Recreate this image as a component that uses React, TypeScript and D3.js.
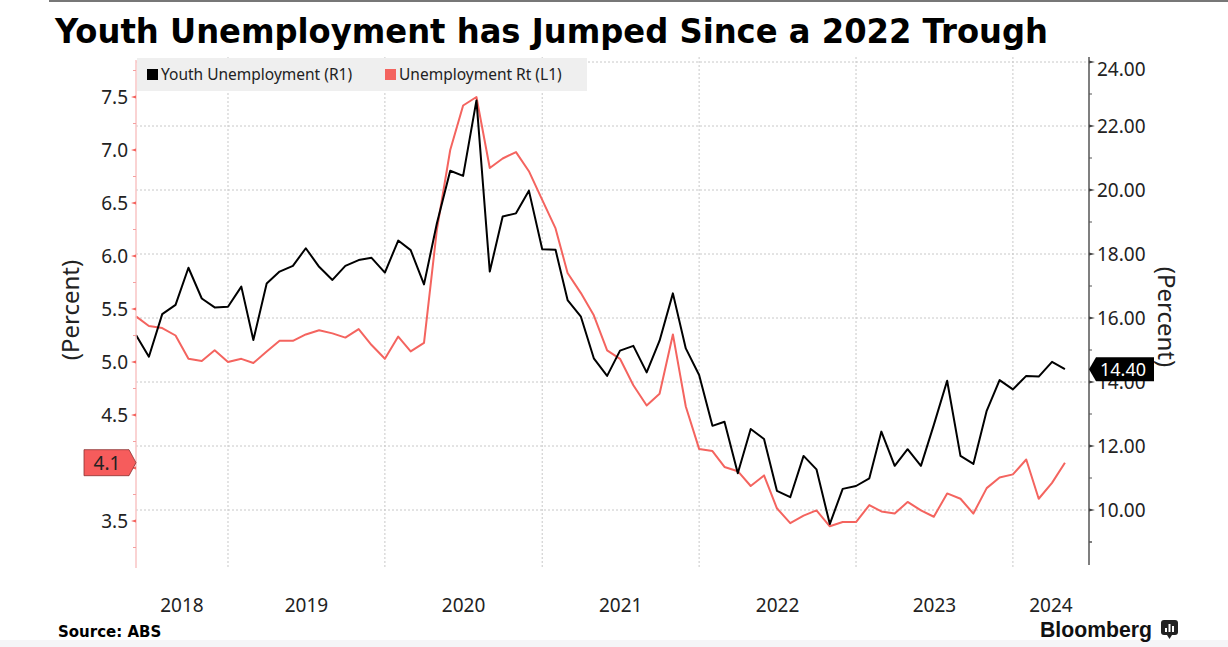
import React from "react";
import * as d3 from "d3";

// Monthly observations, May 2018 .. Apr 2024 (plotted at month end)
const startMonth = new Date(2018, 5, 1);
const youthUnemployment: number[] = [
  15.47, 14.79, 16.12, 16.41, 17.57, 16.61, 16.33, 16.35, 16.98, 15.31,
  17.08, 17.45, 17.63, 18.18, 17.6, 17.19, 17.63, 17.81, 17.88, 17.42,
  18.42, 18.12, 17.05, 18.96, 20.6, 20.44, 22.8, 17.45, 19.17, 19.27,
  19.98, 18.15, 18.13, 16.56, 16.04, 14.74, 14.19, 14.98, 15.13, 14.3,
  15.29, 16.77, 15.05, 14.22, 12.63, 12.76, 11.15, 12.53, 12.22, 10.6,
  10.4, 11.69, 11.27, 9.56, 10.66, 10.75, 10.99, 12.45, 11.38, 11.9,
  11.38, 12.66, 14.04, 11.69, 11.44, 13.1, 14.06, 13.77, 14.19, 14.17,
  14.63, 14.4,
];
const unemploymentRate: number[] = [
  5.43, 5.34, 5.32, 5.25, 5.03, 5.01, 5.11, 5.0, 5.03, 4.99,
  5.1, 5.2, 5.2, 5.26, 5.3, 5.27, 5.23, 5.31, 5.16, 5.03,
  5.24, 5.1, 5.18, 6.25, 7.0, 7.42, 7.5, 6.83, 6.92, 6.98,
  6.8, 6.53, 6.26, 5.84, 5.65, 5.44, 5.11, 5.03, 4.78, 4.59,
  4.7, 5.26, 4.58, 4.18, 4.16, 4.01, 3.97, 3.83, 3.93, 3.62,
  3.48, 3.55, 3.6, 3.45, 3.49, 3.49, 3.65, 3.59, 3.57, 3.68,
  3.6, 3.54, 3.76, 3.71, 3.57, 3.81, 3.91, 3.94, 4.08, 3.71,
  3.86, 4.05,
];
const leftTicks: number[] = [3.5, 4.0, 4.5, 5.0, 5.5, 6.0, 6.5, 7.0, 7.5];
const rightTicks: number[] = [10, 12, 14, 16, 18, 20, 22, 24];
const yearLabels: string[] = ["2018", "2019", "2020", "2021", "2022", "2023", "2024"];
const seriesNames: string[] = ["Youth Unemployment (R1)", "Unemployment Rt (L1)"];
const lastLabels: string[] = ["14.40", "4.1"];

const W = 1228;
const H = 647;
const X0 = 136;
const X1 = 1089;
const TOP = 57;
const BOTTOM = 568;
const RED = "#f4645f";
const FONT = "'Noto Sans', 'Open Sans', sans-serif";

export default function App() {
  const dates = youthUnemployment.map((_, i) => d3.timeMonth.offset(startMonth, i));
  const x = d3
    .scaleTime()
    .domain([new Date(2018, 5, 1), new Date(2024, 5, 26)])
    .range([X0, X1]);
  const yL = d3.scaleLinear().domain([3.5, 7.5]).range([521, 97]);
  const yR = d3.scaleLinear().domain([10, 24]).range([510, 62]);

  const lineR = d3
    .line<number>()
    .x((_, i) => x(dates[i]))
    .y((d) => yR(d));
  const lineL = d3
    .line<number>()
    .x((_, i) => x(dates[i]))
    .y((d) => yL(d));

  const yearStarts = yearLabels.map((y) => new Date(+y, 0, 1));
  const leftMinor = leftTicks.map((t) => t - 0.25).concat([7.75]);
  const rightMinor = rightTicks.map((t) => t - 1).concat([9]).filter((t) => yR(t) < BOTTOM - 2);

  const fmtL = d3.format(".1f");
  const fmtR = d3.format(".2f");

  const lastIdx = youthUnemployment.length - 1;
  const lastYR = yR(youthUnemployment[lastIdx]);
  const lastYL = yL(unemploymentRate[lastIdx]);

  return (
    <svg
      width={W}
      height={H}
      style={{ position: "absolute", left: 0, top: 0, background: "#fff" }}
      fontFamily={FONT}
    >
      <rect x={0} y={0} width={W} height={H} fill="#fff" />
      <rect x={49} y={0} width={W - 49} height={2} fill="#777" />
      <rect x={0} y={640} width={W} height={7} fill="#f5f5f7" />

      {/* Title */}
      <text
        x={55}
        y={43}
        fontFamily="'DejaVu Sans', sans-serif"
        fontWeight="bold"
        fontSize={34}
        textLength={993}
        lengthAdjust="spacingAndGlyphs"
        fill="#000"
      >
        Youth Unemployment has Jumped Since a 2022 Trough
      </text>

      {/* gridlines */}
      {rightTicks.map((t) => (
        <line
          key={"hg" + t}
          x1={X0}
          x2={X1}
          y1={yR(t)}
          y2={yR(t)}
          stroke="#c8c8c8"
          strokeDasharray="2,2"
          strokeWidth={1}
        />
      ))}
      {yearStarts.slice(1).map((d, i) => (
        <line
          key={"vg" + i}
          x1={x(d)}
          x2={x(d)}
          y1={TOP}
          y2={BOTTOM}
          stroke="#c8c8c8"
          strokeDasharray="2,2"
          strokeWidth={1}
        />
      ))}

      {/* Legend */}
      <rect x={137} y={58} width={450} height={33} fill="#efefef" />
      <rect x={147} y={69} width={11} height={11} fill="#000" />
      <text x={161} y={80} fontSize={15.5} fill="#222">
        {seriesNames[0]}
      </text>
      <rect x={385} y={69} width={11} height={11} fill={RED} />
      <text x={399} y={80} fontSize={15.5} fill="#222">
        {seriesNames[1]}
      </text>

      {/* Lines */}
      <path d={lineL(unemploymentRate) || ""} fill="none" stroke={RED} strokeWidth={2} strokeLinejoin="round" />
      <path d={lineR(youthUnemployment) || ""} fill="none" stroke="#000" strokeWidth={2} strokeLinejoin="round" />

      {/* Left axis */}
      <line x1={X0} x2={X0} y1={60} y2={BOTTOM} stroke="#f8c4c4" strokeWidth={1.5} />
      {leftMinor.map((t) => (
        <line key={"lm" + t} x1={X0 - 3} x2={X0} y1={yL(t)} y2={yL(t)} stroke="#f4a0a0" strokeWidth={1} />
      ))}
      {leftTicks.map((t) => (
        <g key={"lt" + t}>
          <path
            d={`M${X0},${yL(t) - 1.5}L${X0 - 5},${yL(t)}L${X0},${yL(t) + 1.5}Z`}
            fill={RED}
          />
          {Math.abs(yL(t) - lastYL) > 16 && (
            <text x={128} y={yL(t)} textAnchor="end" dominantBaseline="central" fontSize={19} fill="#222">
              {fmtL(t)}
            </text>
          )}
        </g>
      ))}

      {/* Right axis */}
      <line x1={X1} x2={X1} y1={TOP} y2={565} stroke="#555" strokeWidth={1.5} />
      {rightMinor.map((t) => (
        <line key={"rm" + t} x1={X1} x2={X1 + 3} y1={yR(t)} y2={yR(t)} stroke="#555" strokeWidth={1} />
      ))}
      {rightTicks.map((t) => (
        <g key={"rt" + t}>
          <path
            d={`M${X1},${yR(t) - 1.5}L${X1 + 6},${yR(t)}L${X1},${yR(t) + 1.5}Z`}
            fill="#444"
          />
          <text
            x={1097}
            y={Math.max(yR(t), 69)}
            dominantBaseline="central"
            fontSize={19}
            fill="#222"
          >
            {fmtR(t)}
          </text>
        </g>
      ))}

      {/* Axis titles */}
      <text
        transform={`translate(69,310) rotate(-90)`}
        textAnchor="middle"
        dominantBaseline="central"
        fontSize={24}
        fill="#222"
      >
        (Percent)
      </text>
      <text
        transform={`translate(1167,317) rotate(90)`}
        textAnchor="middle"
        dominantBaseline="central"
        fontSize={24}
        fill="#222"
      >
        (Percent)
      </text>

      {/* Year labels */}
      {yearLabels.map((yl, i) => {
        const a = Math.max(x(yearStarts[i]), X0);
        const b = i < yearLabels.length - 1 ? x(yearStarts[i + 1]) : X1;
        return (
          <text key={yl} x={(a + b) / 2} y={605} textAnchor="middle" dominantBaseline="central" fontSize={19} fill="#222">
            {yl}
          </text>
        );
      })}

      {/* Last-value labels */}
      <path
        d={`M${X1},${lastYR}L${X1 + 7},${lastYR - 12}L${1154},${lastYR - 12}L${1154},${lastYR + 12}L${X1 + 7},${lastYR + 12}Z`}
        fill="#000"
      />
      <text x={1123} y={lastYR} textAnchor="middle" dominantBaseline="central" fontSize={18} fill="#fff">
        {lastLabels[0]}
      </text>
      <path
        d={`M${X0},${lastYL}L${X0 - 7},${lastYL - 13}L${84},${lastYL - 13}L${84},${lastYL + 13}L${X0 - 7},${lastYL + 13}Z`}
        fill="#f65c5c"
        stroke="#8a3030"
        strokeWidth={0.8}
      />
      <text x={107} y={lastYL} textAnchor="middle" dominantBaseline="central" fontSize={19} fill="#222">
        {lastLabels[1]}
      </text>

      {/* Footer */}
      <text x={58} y={637} fontFamily="'DejaVu Sans', sans-serif" fontWeight="bold" fontSize={15} fill="#000">
        Source: ABS
      </text>
      <text
        x={1040}
        y={637}
        fontFamily="'Liberation Sans', Arial, sans-serif"
        fontWeight="bold"
        fontSize={22}
        fill="#111"
        textLength={112}
        lengthAdjust="spacingAndGlyphs"
      >
        Bloomberg
      </text>
      <g>
        <rect x={1161} y={620} width={17} height={15} rx={3} fill="#222" />
        <path d="M1167,635L1169.5,639L1172,635Z" fill="#222" />
        <rect x={1165} y={628} width={2} height={4} fill="#fff" />
        <rect x={1168.5} y={624} width={2} height={8} fill="#fff" />
        <rect x={1172} y={626} width={2} height={6} fill="#fff" />
      </g>
    </svg>
  );
}
